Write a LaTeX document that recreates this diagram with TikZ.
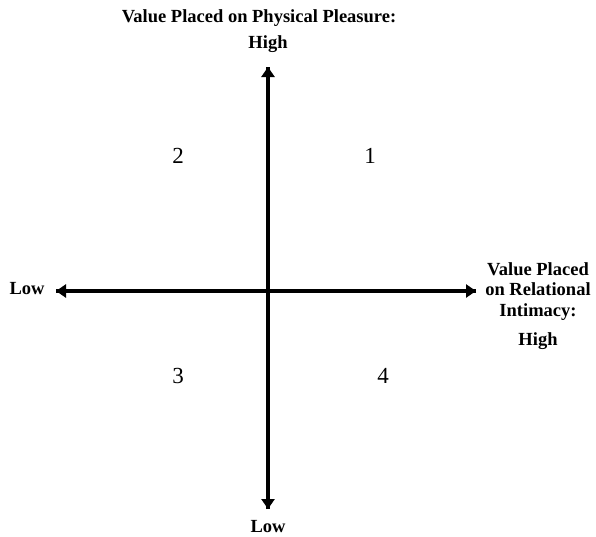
\documentclass[tikz,border=0pt]{standalone}
\usepackage{fontspec}
\setmainfont{Liberation Serif}
\usetikzlibrary{arrows.meta}
\begin{document}
\begin{tikzpicture}[x=1pt,y=-1pt,
  axis/.style={line width=3.2pt,-{Triangle[width=13pt,length=10pt]}},
  lab/.style={font=\bfseries\fontsize{18.5}{20.5}\selectfont,align=center,inner sep=0pt},
  quad/.style={font=\fontsize{23}{24}\selectfont,inner sep=0pt}]
\useasboundingbox (0,0) rectangle (596,536);
\coordinate (T) at (268,67);
\coordinate (B) at (268,509);
\coordinate (L) at (56,291);
\coordinate (R) at (476,291);
\draw[axis] (B) -- (T);
\draw[axis] (T) -- (B);
\draw[axis] (R) -- (L);
\draw[axis] (L) -- (R);
\node[lab] (top) at (259,18) {Value Placed on Physical Pleasure:};
\node[lab] (tophigh) at (268,44) {High};
\node[lab] (lowl) at (27,289) {Low};
\node[lab] (lowb) at (268,527) {Low};
\node[lab,anchor=north] (right) at (538,262) {Value Placed\\on Relational\\Intimacy:};
\node[lab] (righthigh) at (538,341) {High};
\node[quad] (q1) at (370,156) {1};
\node[quad] (q2) at (178,156) {2};
\node[quad] (q3) at (178,376) {3};
\node[quad] (q4) at (383,376) {4};
\end{tikzpicture}
\end{document}
